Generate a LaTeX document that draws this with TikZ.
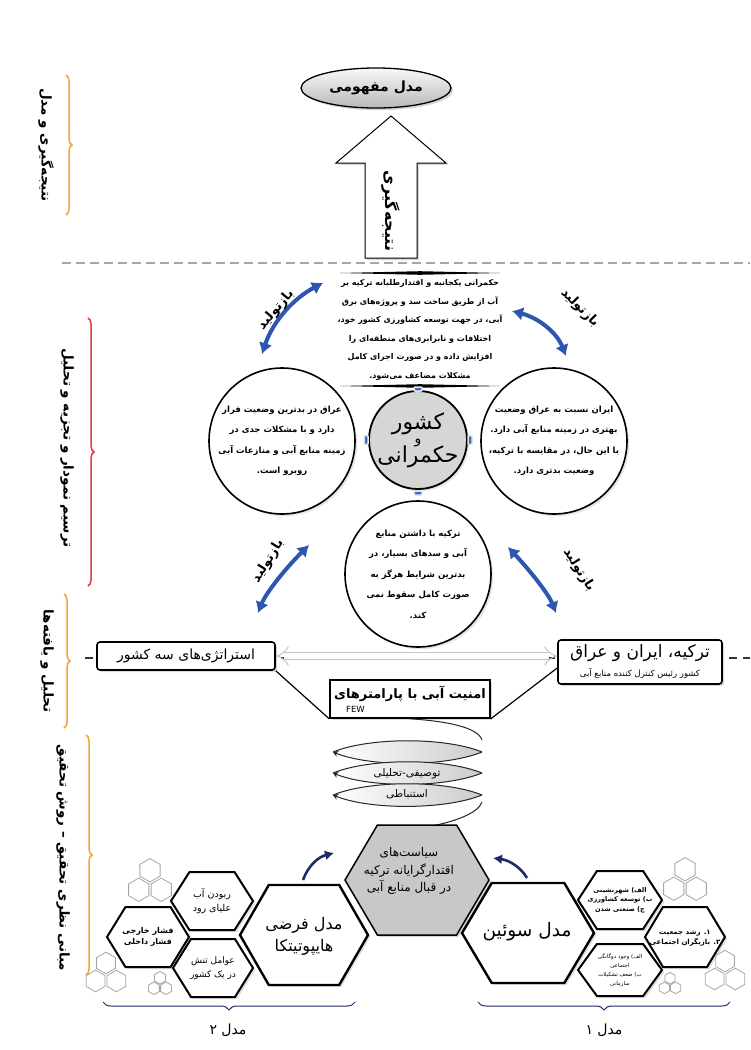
\documentclass[tikz,border=0pt]{standalone}
\usepackage{fontspec}
\newfontfamily\arabicfont[Script=Arabic]{DejaVu Sans}
\TeXXeTstate=1
\usepackage{xcolor}
\definecolor{bracegold}{HTML}{F2A33A}
\definecolor{bracered}{HTML}{E4393B}
\definecolor{cycleblue}{HTML}{2C56B0}
\definecolor{linknavy}{HTML}{1D2B6E}
\definecolor{tabblue}{HTML}{3F6BC4}
\definecolor{hubgray}{HTML}{D6D6D6}
\definecolor{policygray}{HTML}{C8C8C8}
\usepackage{tikz}
\usetikzlibrary{shapes,arrows.meta,positioning,calc,decorations.pathreplacing,shadows}

\newcommand{\fa}[1]{\beginR #1\endR}
\newcommand{\sz}[2]{\fontsize{#1}{#2}\selectfont}
\newcommand{\hexcell}[5]{%
  \draw[#1] (#2,#3) +(-#4,0) -- +(-0.55*#4,-#5) -- +(0.55*#4,-#5) -- +(#4,0) -- +(0.55*#4,#5) -- +(-0.55*#4,#5) -- cycle;}
\newcommand{\honeycomb}[3]{%
  \foreach \hx/\hy in {0/-0.75, -0.866/0.75, 0.866/0.75}
    \draw[honeycell] ({#1+\hx*#3},{#2+\hy*#3}) +(30:0.9*#3) -- +(90:0.9*#3) -- +(150:0.9*#3) -- +(210:0.9*#3) -- +(270:0.9*#3) -- +(330:0.9*#3) -- cycle;}

\begin{document}
\begin{tikzpicture}[x=1pt, y=-1pt,
    sidebrace/.style={decorate, decoration={brace, amplitude=6pt}, line width=1.5pt},
    sidelabel/.style={font=\arabicfont\bfseries\sz{13.5}{15}, rotate=-90},
    concept/.style={ellipse, draw, line width=1.3pt, top color=gray!5, bottom color=gray!55, minimum width=150pt, minimum height=40pt, font=\arabicfont\bfseries\sz{14}{16}, drop shadow={opacity=0.35}},
    bigarrow/.style={draw, line width=1pt, fill=white, drop shadow={opacity=0.3}},
    rulebar/.style={fill=black},
    blocktext/.style={font=\arabicfont\bfseries\sz{8}{18.5}, align=center},
    sidecircle/.style={circle, draw, line width=1.6pt, fill=white, minimum size=146pt, inner sep=0pt, drop shadow={opacity=0.2}},
    hubcircle/.style={circle, draw, line width=1.8pt, fill=hubgray, minimum size=98pt, inner sep=0pt, drop shadow={opacity=0.2}},
    circletext/.style={font=\arabicfont\bfseries\sz{8.5}{20.5}, align=center},
    tab/.style={rectangle, rounded corners=1pt, fill=tabblue, draw=gray!20, line width=1.5pt, inner sep=0pt},
    cyclearrow/.style={{Latex[length=11pt,width=14pt]}-{Latex[length=11pt,width=14pt]}, line width=4pt, cycleblue},
    cycletext/.style={font=\arabicfont\bfseries\sz{13}{15}},
    rowline/.style={dash pattern=on 8pt off 6pt, line width=1.2pt, black!80},
    topline/.style={dash pattern=on 9pt off 5pt, line width=1.3pt, gray!70},
    rowbox/.style={rectangle, draw, line width=1.6pt, rounded corners=3pt, fill=white, inner sep=2pt, drop shadow={opacity=0.3}},
    fewlink/.style={{Implies}-{Implies}, double distance=6pt, gray!45, line width=1pt, double=white},
    feeder/.style={line width=1.2pt},
    coilring/.style={line width=1pt, black!85},
    coiltip/.style={-{Stealth[length=5pt,width=6pt]}},
    coiltext/.style={font=\arabicfont\sz{10.5}{12}},
    hexbig/.style={line width=2.4pt, fill=white, drop shadow={opacity=0.25}},
    hexsmall/.style={line width=2pt, fill=white, drop shadow={opacity=0.25}},
    hexgray/.style={line width=1.5pt, fill=policygray, drop shadow={opacity=0.3}},
    honeycell/.style={line width=0.8pt, gray!70},
    hexlink/.style={-{Latex[length=9pt,width=10pt]}, line width=2.6pt, linknavy},
    modelbrace/.style={decorate, decoration={brace, amplitude=8pt}, line width=1pt, linknavy},
    modellabel/.style={font=\arabicfont\sz{14}{16}}
  ]
  \fill[white] (0,0) rectangle (750,1050);
  \useasboundingbox (0,0) rectangle (750,1050);

  % stage labels on the left
  \draw[sidebrace, bracegold] (66,75) -- (66,215);
  \node[sidelabel] (lblconcl) at (46,145) {\fa{نتیجه‌گیری و مدل}};
  \draw[sidebrace, bracered] (88,318) -- (88,586);
  \node[sidelabel] (lbldraw) at (67,448) {\fa{ترسیم نمودار و تجزیه و تحلیل}};
  \draw[sidebrace, bracegold] (64,594) -- (64,728);
  \node[sidelabel] (lblfind) at (47,661) {\fa{تحلیل و یافته‌ها}};
  \draw[sidebrace, bracegold] (86,735) -- (86,975);
  \node[sidelabel] (lblbase) at (63,858) {\fa{مبانی نظری تحقیق – روش تحقیق}};

  % conclusion
  \node[concept] (concept) at (376,88) {\fa{مدل مفهومی}};
  \draw[bigarrow] (391,116) -- (446,163) -- (417,163) -- (417,258) -- (365,258) -- (365,163) -- (336,163) -- cycle;
  \node[font=\arabicfont\bfseries\sz{16}{18}, rotate=-90] (conclusion) at (391,211) {\fa{نتیجه‌گیری}};
  \draw[topline] (62,263) -- (750,263);

  % turkish water policy text
  \fill[rulebar] (340,273) -- (420,271.2) -- (500,273) -- (420,274.8) -- cycle;
  \node[blocktext] (turkeyrule) at (420,330) {\fa{حکمرانی یکجانبه و اقتدارطلبانه ترکیه بر}\\\fa{آب از طریق ساخت سد و پروژه‌های برق}\\\fa{آبی، در جهت توسعه کشاورزی کشور خود،}\\\fa{اختلافات و نابرابری‌های منطقه‌ای را}\\\fa{افزایش داده و در صورت اجرای کامل}\\\fa{مشکلات مضاعف می‌شود.}};
  \fill[rulebar] (340,386) -- (420,384.2) -- (500,386) -- (420,387.8) -- cycle;

  % circles
  \node[sidecircle] (iraq) at (282,441) {};
  \node[circletext] (iraqtext) at (iraq) {\fa{عراق در بدترین وضعیت قرار}\\\fa{دارد و با مشکلات جدی در}\\\fa{زمینه منابع آبی و منازعات آبی}\\\fa{روبرو است.}};
  \node[sidecircle] (iran) at (554,441) {};
  \node[circletext] (irantext) at (iran) {\fa{ایران نسبت به عراق وضعیت}\\\fa{بهتری در زمینه منابع آبی دارد.}\\\fa{با این حال، در مقایسه با ترکیه،}\\\fa{وضعیت بدتری دارد.}};
  \node[sidecircle] (turkey) at (418,574) {};
  \node[circletext] (turkeytext) at (turkey) {\fa{ترکیه با داشتن منابع}\\\fa{آبی و سدهای بسیار، در}\\\fa{بدترین شرایط هرگز به}\\\fa{صورت کامل سقوط نمی}\\\fa{کند.}};
  \node[hubcircle] (hub) at (418,440) {};
  \node[font=\arabicfont\sz{22}{24}, align=center] (hubtext) at (hub) {\fa{کشور}\\[-10pt]{\sz{14}{15}\fa{و}}\\[-5pt]\fa{حکمرانی}};
  \node[tab, minimum width=8pt, minimum height=4pt] (tabtop) at (418,389) {};
  \node[tab, minimum width=8pt, minimum height=4pt] (tabbot) at (418,493) {};
  \node[tab, minimum width=4pt, minimum height=9pt] (tableft) at (366,440) {};
  \node[tab, minimum width=4pt, minimum height=9pt] (tabright) at (470,440) {};

  % reproduction arrows
  \coordinate (loopnwA) at (323,283);
  \coordinate (loopnwB) at (262,354);
  \coordinate (loopneA) at (512,311);
  \coordinate (loopneB) at (566,356);
  \coordinate (loopswA) at (309,545);
  \coordinate (loopswB) at (258,613);
  \coordinate (loopseA) at (508,547);
  \coordinate (loopseB) at (556,613);
  \draw[cyclearrow] (loopnwA) .. controls (294,298) and (273,321) .. (loopnwB);
  \draw[cyclearrow] (loopneA) .. controls (539,318) and (557,333) .. (loopneB);
  \draw[cyclearrow] (loopswA) .. controls (282,572) and (265,595) .. (loopswB);
  \draw[cyclearrow] (loopseA) .. controls (533,574) and (549,595) .. (loopseB);
  \node[cycletext, rotate=50] (reprnw) at (276,310) {\fa{بازتولید}};
  \node[cycletext, rotate=-45] (reprne) at (580,308) {\fa{بازتولید}};
  \node[cycletext, rotate=58] (reprsw) at (268,561) {\fa{بازتولید}};
  \node[cycletext, rotate=-58] (reprse) at (579,570) {\fa{بازتولید}};

  % findings row
  \draw[rowline] (85,658) -- (750,658);
  \node[rowbox, minimum width=178pt, minimum height=28pt, font=\arabicfont\sz{14}{16}] (strategy) at (186,656) {\fa{استراتژی‌های سه کشور}};
  \node[rowbox, minimum width=164pt, minimum height=44pt, align=center, font=\arabicfont\sz{17}{19}] (actors) at (640,662) {\fa{ترکیه، ایران و عراق}\\{\sz{8.5}{10}\fa{کشور رئیس کنترل کننده منابع آبی}}};
  \node[rowbox, rounded corners=0pt, minimum width=160pt, minimum height=38pt, align=left, font=\arabicfont\bfseries\sz{13}{14}] (few) at (410,699) {\fa{امنیت آبی با پارامترهای}\\\hspace*{12pt}{\mdseries\sz{8.5}{9}FEW}};
  \draw[fewlink] (strategy.east) -- (strategy.east -| actors.west);
  \draw[feeder] (strategy.south east) -- (few.south west);
  \draw[feeder] ([yshift=-6pt]actors.west) -- (few.south east);

  % method coil
  \draw[coilring] (few.south) .. controls (445,721) and (478,727) .. (482,740);
  \foreach \ly in {752,773,795} {
    \shade[left color=white, right color=gray!40] (333,\ly) .. controls (370,\ly-15) and (445,\ly-15) .. (482,\ly) .. controls (445,\ly+15) and (370,\ly+15) .. (333,\ly);
    \draw[coilring] (333,\ly) .. controls (370,\ly-15) and (445,\ly-15) .. (482,\ly);
    \draw[coilring, coiltip] (482,\ly) .. controls (445,\ly+15) and (370,\ly+15) .. (333,\ly);
  }
  \draw[coilring] (482,802) .. controls (478,814) and (452,822) .. (432,826);
  \node[coiltext] (method1) at (407,774) {\fa{توصیفی-تحلیلی}};
  \node[coiltext] (method2) at (407,794) {\fa{استنباطی}};

  % hexagons
  \hexcell{hexgray}{417}{880}{72}{55}
  \hexcell{hexbig}{304}{935}{64}{50}
  \hexcell{hexbig}{528}{933}{66}{50}
  \hexcell{hexsmall}{212}{901}{41}{29}
  \hexcell{hexsmall}{148}{937}{41}{30}
  \hexcell{hexsmall}{213}{968}{40}{29}
  \hexcell{hexsmall}{620}{900}{42}{29}
  \hexcell{hexsmall}{685}{937}{40}{30}
  \hexcell{hexsmall}{620}{970}{42}{26}
  \honeycomb{150}{880}{13}
  \honeycomb{685}{879}{13}
  \honeycomb{106}{972}{12}
  \honeycomb{160}{983}{7}
  \honeycomb{725}{970}{12}
  \honeycomb{670}{983}{6.5}

  \node[font=\arabicfont\sz{12}{17.5}, align=center] (policy) at (409,871) {\fa{سیاست‌های}\\\fa{اقتدارگرایانه ترکیه}\\\fa{در قبال منابع آبی}};
  \node[font=\arabicfont\sz{16}{22}, align=center] (hypo) at (304,936) {\fa{مدل فرضی}\\\fa{هایپوتیتکا}};
  \node[font=\arabicfont\sz{18.5}{20}] (swain) at (527,932) {\fa{مدل سوئین}};
  \node[font=\arabicfont\sz{9.5}{14}, align=center] (upstream) at (212,901) {\fa{ربودن آب}\\\fa{علیای رود}};
  \node[font=\arabicfont\bfseries\sz{8}{10.5}, align=center] (pressure) at (148,937) {\fa{فشار خارجی}\\\fa{فشار داخلی}};
  \node[font=\arabicfont\sz{9}{14}, align=center] (tension) at (213,968) {\fa{عوامل تنش}\\\fa{در یک کشور}};
  \node[font=\arabicfont\bfseries\sz{6.5}{9.5}, align=center] (urban) at (620,900) {\fa{الف) شهرنشینی}\\\fa{ب) توسعه کشاورزی}\\\fa{ج) صنعتی شدن}};
  \node[font=\arabicfont\bfseries\sz{7}{10}, align=center] (growth) at (685,938) {\fa{۱. رشد جمعیت}\\\fa{۲. بازیگران اجتماعی}};
  \node[font=\arabicfont\sz{5.5}{9}, align=center] (duality) at (620,970) {\fa{الف) وجود دوگانگی}\\\fa{اجتماعی}\\\fa{ب) ضعف تشکیلات}\\\fa{سازمانی}};

  \coordinate (hypoout) at (303,880);
  \coordinate (policyinL) at (334,853);
  \coordinate (swainout) at (527,878);
  \coordinate (policyinR) at (493,858);
  \draw[hexlink] (hypoout) .. controls (308,866) and (318,857) .. (policyinL);
  \draw[hexlink] (swainout) .. controls (520,866) and (508,860) .. (policyinR);

  % models
  \draw[modelbrace] (355,1002) -- (103,1002);
  \node[modellabel] (model2) at (228,1030) {\fa{مدل ۲}};
  \draw[modelbrace] (730,1002) -- (478,1002);
  \node[modellabel] (model1) at (604,1030) {\fa{مدل ۱}};
\end{tikzpicture}
\end{document}
